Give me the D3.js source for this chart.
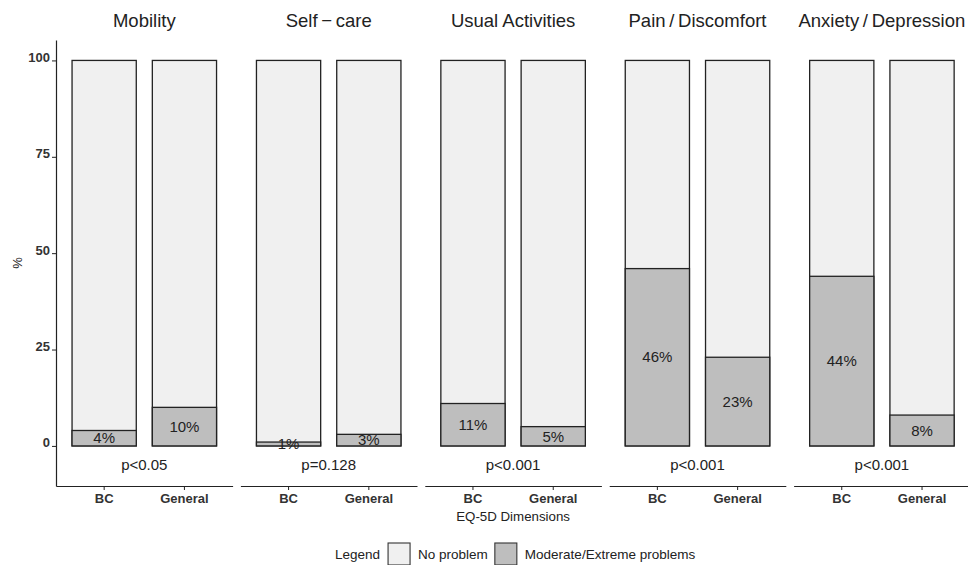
<!DOCTYPE html>
<html>
<head>
<meta charset="utf-8">
<script src="https://cdn.jsdelivr.net/npm/d3@7"></script>
<style>
  body { margin: 0; background: #fff; }
  svg { display: block; font-family: "Liberation Sans", Arial, sans-serif; }
</style>
</head>
<body>
<div id="chart"></div>
<script>
// chart data
const dimensions = ["Mobility", "Self\u2009\u2212\u2009care", "Usual Activities", "Pain\u2009/\u2009Discomfort", "Anxiety\u2009/\u2009Depression"];
const groups = ["BC", "General"];
const bcProblems = [4, 1, 11, 46, 44];
const generalProblems = [10, 3, 5, 23, 8];
const pValues = ["p<0.05", "p=0.128", "p<0.001", "p<0.001", "p<0.001"];
const yTicks = [0, 25, 50, 75, 100];
const legendLabels = ["No problem", "Moderate/Extreme problems"];

const width = 968;
const height = 565;
const plotLeft = 56;
const panelW = 176.6;
const panelGap = 7.8;
const fillNo = "#f0f0f0";
const fillYes = "#bebebe";
const ink = "#222";

const svg = d3.select("#chart").append("svg")
    .attr("width", width)
    .attr("height", height);

const panelX = d3.scaleBand()
    .domain(dimensions)
    .range([plotLeft, plotLeft + 5 * panelW + 4 * panelGap])
    .paddingInner(panelGap / (panelW + panelGap));

const x = d3.scaleBand()
    .domain(groups)
    .range([0, panelW])
    .paddingInner(0.2)
    .paddingOuter(0.2);

const y = d3.scaleLinear()
    .domain([-10.4, 105.3])
    .range([486, 40]);

// rows: one per dimension x group
const rows = dimensions.flatMap((dim, i) => [
    { dim, group: "BC", value: bcProblems[i] },
    { dim, group: "General", value: generalProblems[i] }
]);

// y axis
const yAxis = svg.append("g")
    .attr("transform", `translate(${plotLeft},0)`)
    .call(d3.axisLeft(y).tickValues(yTicks).tickSize(4).tickSizeOuter(0).tickPadding(2));
yAxis.select(".domain").attr("stroke", ink).attr("stroke-width", 1.2);
yAxis.selectAll(".tick line").attr("stroke", ink).attr("stroke-width", 1);
yAxis.selectAll(".tick text")
    .attr("dy", "0.08em")
    .attr("font-size", 13)
    .attr("font-weight", "bold")
    .attr("fill", "#333")
    .attr("font-family", "Liberation Sans, Arial, sans-serif");

svg.append("text")
    .attr("transform", "translate(17,263) rotate(-90)")
    .attr("text-anchor", "middle")
    .attr("dy", "0.35em")
    .attr("font-size", 13)
    .attr("fill", ink)
    .text("%");

// panels
const panels = svg.selectAll("g.panel")
    .data(dimensions)
    .join("g")
    .attr("class", "panel")
    .attr("transform", d => `translate(${panelX(d)},0)`);

panels.each(function (dim, i) {
    const g = d3.select(this);
    const data = rows.filter(r => r.dim === dim);

    // full bar = no problem
    g.selectAll("rect.no")
        .data(data)
        .join("rect")
        .attr("class", "no")
        .attr("x", d => x(d.group))
        .attr("width", x.bandwidth())
        .attr("y", y(100))
        .attr("height", y(0) - y(100))
        .attr("fill", fillNo)
        .attr("stroke", ink)
        .attr("stroke-width", 1.3);

    g.selectAll("rect.yes")
        .data(data)
        .join("rect")
        .attr("class", "yes")
        .attr("x", d => x(d.group))
        .attr("width", x.bandwidth())
        .attr("y", d => y(d.value))
        .attr("height", d => y(0) - y(d.value))
        .attr("fill", fillYes)
        .attr("stroke", ink)
        .attr("stroke-width", 1.3);

    g.selectAll("text.pct")
        .data(data)
        .join("text")
        .attr("class", "pct")
        .attr("x", d => x(d.group) + x.bandwidth() / 2)
        .attr("y", d => y(d.value / 2))
        .attr("dy", "0.35em")
        .attr("text-anchor", "middle")
        .attr("font-size", 15)
        .attr("fill", ink)
        .text(d => d.value + "%");

    g.append("text")
        .attr("x", panelW / 2)
        .attr("y", y(-5))
        .attr("dy", "0.35em")
        .attr("text-anchor", "middle")
        .attr("font-size", 15)
        .attr("fill", ink)
        .text(pValues[i]);

    g.append("text")
        .attr("x", panelW / 2)
        .attr("y", 27)
        .attr("text-anchor", "middle")
        .attr("font-size", 18.5)
        .attr("fill", ink)
        .text(dim);

    const xAxis = g.append("g")
        .attr("transform", `translate(0,${y(-10.4)})`)
        .call(d3.axisBottom(x).tickSize(4).tickSizeOuter(0).tickPadding(4));
    xAxis.select(".domain").attr("stroke", ink).attr("stroke-width", 1.2);
    xAxis.selectAll(".tick line").attr("stroke", ink).attr("stroke-width", 1);
    xAxis.selectAll(".tick text")
        .attr("font-size", 13)
        .attr("font-weight", "bold")
        .attr("fill", "#333")
        .attr("font-family", "Liberation Sans, Arial, sans-serif");
});

svg.append("text")
    .attr("x", (panelX.range()[0] + panelX.range()[1]) / 2)
    .attr("y", 521)
    .attr("text-anchor", "middle")
    .attr("font-size", 13.3)
    .attr("fill", ink)
    .text("EQ-5D Dimensions");

// legend
const legend = svg.append("g").attr("transform", "translate(335,554)");
let lx = 0;
const legTitle = legend.append("text")
    .attr("x", lx).attr("dy", "0.35em")
    .attr("font-size", 13.5).attr("fill", ink)
    .text("Legend");
lx += legTitle.node().getComputedTextLength() + 8;
[fillNo, fillYes].forEach((fill, i) => {
    legend.append("rect")
        .attr("x", lx).attr("y", -11)
        .attr("width", 22).attr("height", 22)
        .attr("fill", fill)
        .attr("stroke", "#333")
        .attr("stroke-width", 1.1);
    lx += 22 + 8;
    const t = legend.append("text")
        .attr("x", lx).attr("dy", "0.35em")
        .attr("font-size", 13.5).attr("fill", ink)
        .text(legendLabels[i]);
    lx += t.node().getComputedTextLength() + 7;
});
</script>
</body>
</html>
